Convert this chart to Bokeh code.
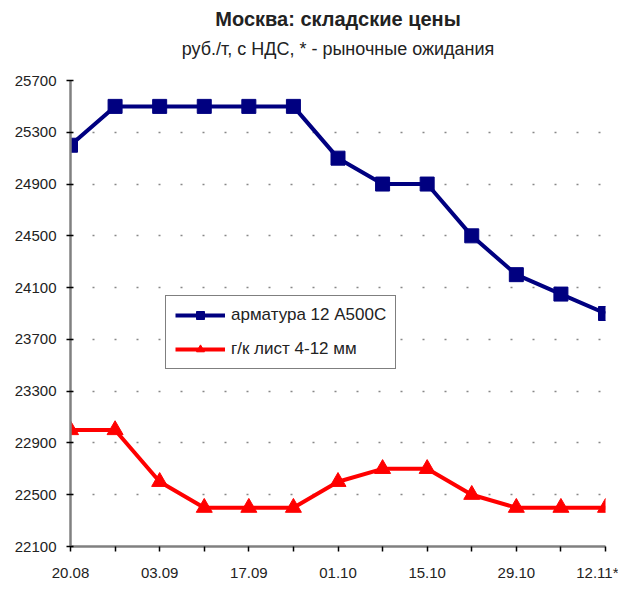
from bokeh.plotting import figure
from bokeh.models import Title, FixedTicker, Legend, LegendItem
from bokeh.embed import file_html
from bokeh.resources import INLINE

dates = ["20.08", "27.08", "03.09", "10.09", "17.09", "24.09", "01.10",
         "08.10", "15.10", "22.10", "29.10", "05.11", "12.11*"]
rebar = [25200, 25500, 25500, 25500, 25500, 25500, 25100,
         24900, 24900, 24500, 24200, 24050, 23900]
sheet = [23000, 23000, 22600, 22400, 22400, 22400, 22600,
         22700, 22700, 22500, 22400, 22400, 22400]
y_ticks = [22100, 22500, 22900, 23300, 23700, 24100, 24500, 24900, 25300, 25700]
rebar_name = "арматура 12 А500С"
sheet_name = "г/к лист 4-12 мм"

xs = list(range(len(dates)))

p = figure(width=618, height=583, output_backend="svg", toolbar_location=None,
           x_range=(0, len(dates) - 1), y_range=(y_ticks[0], y_ticks[-1]),
           min_border_left=70, min_border_right=13, min_border_bottom=34,
           min_border_top=10)
p.outline_line_color = None
p.background_fill_color = "white"

p.add_layout(Title(text=" ", text_font_size="6px", standoff=12), "above")
p.add_layout(Title(text="руб./т, с НДС, * - рыночные ожидания", align="center",
                   text_font="Liberation Sans", text_font_size="18px",
                   text_font_style="normal", text_color="#222222",
                   standoff=4, offset=-17), "above")
p.add_layout(Title(text="Москва: складские цены", align="center",
                   text_font="Liberation Sans", text_font_size="20px",
                   text_font_style="bold", text_color="#222222",
                   offset=-22), "above")

p.xaxis.ticker = FixedTicker(ticks=xs)
p.xaxis.major_label_overrides = {i: (d if i % 2 == 0 else "") for i, d in enumerate(dates)}
p.yaxis.ticker = FixedTicker(ticks=y_ticks)

for ax in (p.xaxis, p.yaxis):
    ax.axis_line_color = "#808080"
    ax.axis_line_width = 2.5
    ax.major_tick_line_color = "black"
    ax.major_tick_line_width = 1.5
    ax.minor_tick_line_color = None
    ax.major_label_text_font = "Liberation Sans"
    ax.major_label_text_font_size = "15px"
    ax.major_label_text_color = "#222222"
p.yaxis.major_tick_in = 3
p.yaxis.major_tick_out = 4
p.xaxis.major_tick_in = 0
p.xaxis.major_tick_out = 5
p.xaxis.major_label_standoff = 12
p.yaxis.major_label_standoff = 10

p.xgrid.grid_line_color = None
p.ygrid.grid_line_color = "#888888"
p.ygrid.grid_line_dash = "2 20"
p.ygrid.grid_line_width = 1.5

l1 = p.line(xs, rebar, line_color="#000080", line_width=4)
m1 = p.scatter(xs, rebar, marker="square", size=14, fill_color="#000080", line_color="#000080")
l2 = p.line(xs, sheet, line_color="#FF0000", line_width=4)
m2 = p.scatter(xs, sheet, marker="triangle", size=16, fill_color="#FF0000", line_color="#FF0000")

legend = Legend(items=[LegendItem(label=rebar_name, renderers=[l1, m1]),
                       LegendItem(label=sheet_name, renderers=[l2, m2])],
                location=(95, 177), orientation="vertical",
                border_line_color="black", border_line_width=1,
                label_text_font="Liberation Sans", label_text_font_size="17px",
                label_text_color="#222222",
                glyph_width=50, glyph_height=20, label_height=20, spacing=14,
                padding=9, margin=0, label_standoff=6,
                background_fill_color="white", background_fill_alpha=1)
p.add_layout(legend, "center")

open("out.html", "w").write(file_html(p, INLINE))
